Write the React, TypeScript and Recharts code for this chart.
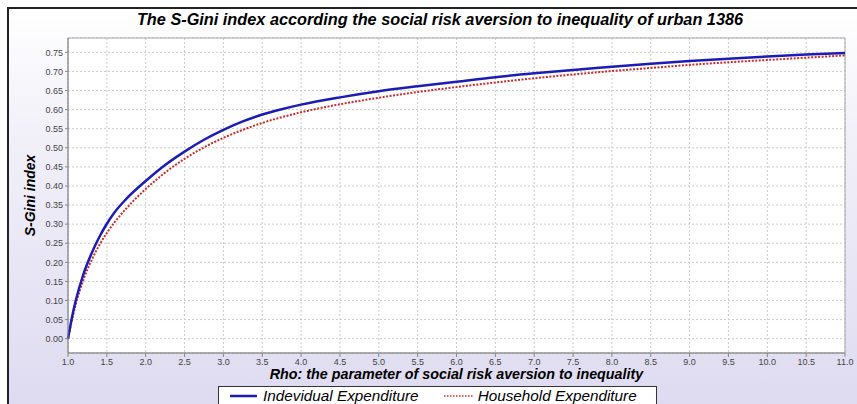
import React from 'react';
import { LineChart, Line, XAxis, YAxis, CartesianGrid, ReferenceArea, Label } from 'recharts';

const rho = [1.0, 1.05, 1.1, 1.2, 1.3, 1.4, 1.5, 1.6, 1.75, 2.0, 2.25, 2.5, 2.75, 3.0, 3.25, 3.5, 3.75, 4.0, 4.5, 5.0, 5.5, 6.0, 6.5, 7.0, 7.5, 8.0, 8.5, 9.0, 9.5, 10.0, 10.5, 11.0];
const individual = [0, 0.055, 0.1, 0.17, 0.222, 0.265, 0.301, 0.331, 0.366, 0.413, 0.455, 0.49, 0.521, 0.547, 0.569, 0.587, 0.601, 0.613, 0.632, 0.648, 0.661, 0.673, 0.685, 0.695, 0.704, 0.712, 0.72, 0.727, 0.733, 0.739, 0.744, 0.748];
const household = [0, 0.047, 0.09, 0.155, 0.204, 0.244, 0.277, 0.305, 0.341, 0.392, 0.435, 0.471, 0.501, 0.526, 0.547, 0.565, 0.58, 0.593, 0.614, 0.631, 0.646, 0.659, 0.671, 0.682, 0.692, 0.701, 0.709, 0.717, 0.724, 0.73, 0.736, 0.742];
const xTicks = [1.0, 1.5, 2.0, 2.5, 3.0, 3.5, 4.0, 4.5, 5.0, 5.5, 6.0, 6.5, 7.0, 7.5, 8.0, 8.5, 9.0, 9.5, 10.0, 10.5, 11.0];
const yTicks = [0, 0.05, 0.1, 0.15, 0.2, 0.25, 0.3, 0.35, 0.4, 0.45, 0.5, 0.55, 0.6, 0.65, 0.7, 0.75];

const title = 'The S-Gini index according the social risk aversion to inequality of urban 1386';
const xLabel = 'Rho: the parameter of social risk aversion to inequality';
const yLabel = 'S-Gini index';
const seriesNames = ['Indevidual Expenditure', 'Household Expenditure'];

const data = rho.map((r, i) => ({ rho: r, ind: individual[i], hh: household[i] }));

const FONT = '"Liberation Sans", Arial, sans-serif';

export default function App() {
  return (
    <div
      style={{
        position: 'fixed',
        left: 0,
        top: 0,
        width: 857,
        height: 404,
        background: '#ffffff',
        overflow: 'hidden',
        fontFamily: FONT,
      }}
    >
      <div
        style={{
          position: 'absolute',
          left: 7,
          top: 7,
          width: 850,
          height: 397,
          borderTop: '2px solid #222',
          borderLeft: '2px solid #222',
          boxSizing: 'border-box',
          background: 'linear-gradient(to bottom, #ffffff 0%, #f2f1f9 30%, #dedbf1 100%)',
        }}
      />
      <div
        style={{
          position: 'absolute',
          left: 0,
          top: 10,
          width: 880,
          textAlign: 'center',
          fontSize: 16.3,
          fontWeight: 'bold',
          fontStyle: 'italic',
          color: '#000',
          whiteSpace: 'nowrap',
        }}
      >
        {title}
      </div>
      <div style={{ position: 'absolute', left: 0, top: 0 }}>
        <LineChart width={857} height={404} data={data} margin={{ top: 38, right: 12, left: 0, bottom: 0 }}>
          <CartesianGrid stroke="#cacaca" strokeDasharray="2 2" fill="#ffffff" fillOpacity={1} />
          <XAxis
            dataKey="rho"
            type="number"
            domain={[1, 11]}
            ticks={xTicks}
            tickFormatter={(v: number) => v.toFixed(1)}
            height={51}
            tickSize={4}
            tickMargin={2}
            stroke="#888"
            tick={{ fontSize: 9, fill: '#444', fontFamily: FONT }}
            interval={0}
          >
            <Label
              value={xLabel}
              position="insideTop"
              offset={16}
              style={{ fontSize: 14.3, fontWeight: 'bold', fontStyle: 'italic', fill: '#000', fontFamily: FONT }}
            />
          </XAxis>
          <YAxis
            type="number"
            domain={[-0.0375, 0.7875]}
            ticks={yTicks}
            tickFormatter={(v: number) => v.toFixed(2)}
            width={68}
            tickSize={3}
            tickMargin={2}
            stroke="#888"
            tick={{ fontSize: 9, fill: '#444', fontFamily: FONT }}
            interval={0}
            allowDataOverflow
          >
            <Label
              value={yLabel}
              angle={-90}
              position="insideLeft"
              offset={30}
              style={{ fontSize: 14, fontWeight: 'bold', fontStyle: 'italic', fill: '#000', fontFamily: FONT, textAnchor: 'middle' }}
            />
          </YAxis>
          <ReferenceArea x1={1} x2={11} y1={-0.0375} y2={0.7875} fill="none" stroke="#a8a8a8" strokeWidth={1} ifOverflow="visible" />
          <Line type="monotone" dataKey="hh" stroke="#cc2a2a" strokeWidth={2} strokeDasharray="2 1.5" dot={false} isAnimationActive={false} />
          <Line type="monotone" dataKey="ind" stroke="#1c1cb4" strokeWidth={2.5} dot={false} isAnimationActive={false} />
        </LineChart>
      </div>
      <div
        style={{
          position: 'absolute',
          left: 218,
          top: 386,
          width: 439,
          height: 30,
          background: '#fff',
          border: '1px solid #333',
          boxSizing: 'border-box',
          display: 'flex',
          alignItems: 'flex-start',
          paddingTop: 0,
          fontSize: 15.3,
          fontStyle: 'italic',
          color: '#000',
          whiteSpace: 'nowrap',
        }}
      >
        <div style={{ display: 'flex', alignItems: 'center', marginLeft: 11 }}>
          <svg width={28} height={14}>
            <line x1={0} y1={7} x2={27} y2={7} stroke="#1c1cb4" strokeWidth={2.5} />
          </svg>
          <span style={{ marginLeft: 5 }}>{seriesNames[0]}</span>
        </div>
        <div style={{ display: 'flex', alignItems: 'center', marginLeft: 25 }}>
          <svg width={30} height={14}>
            <line x1={0} y1={7} x2={29} y2={7} stroke="#cc2a2a" strokeWidth={1.5} strokeDasharray="1.5 1.5" />
          </svg>
          <span style={{ marginLeft: 4 }}>{seriesNames[1]}</span>
        </div>
      </div>
    </div>
  );
}
